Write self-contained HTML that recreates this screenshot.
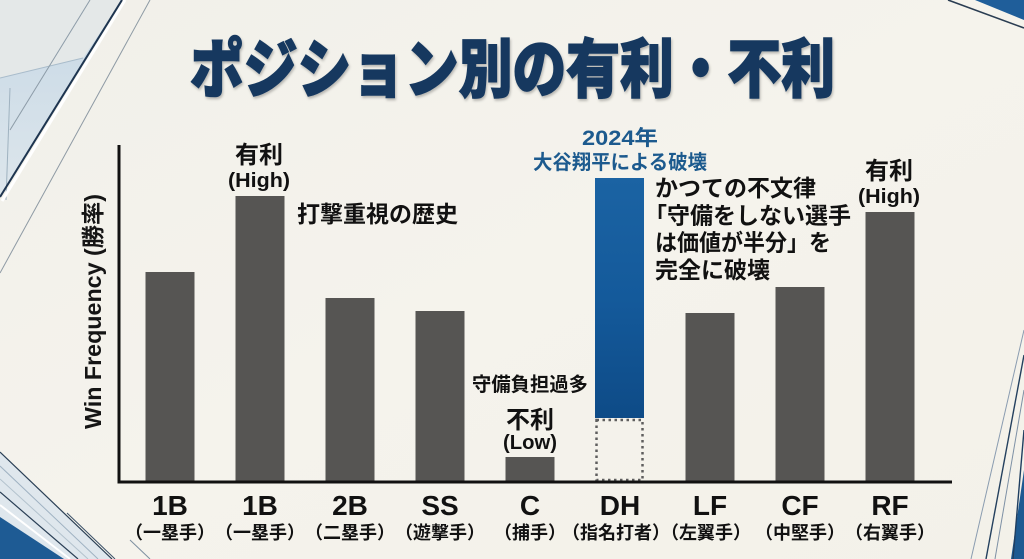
<!DOCTYPE html>
<html><head><meta charset="utf-8">
<style>
html,body{margin:0;padding:0;background:#f4f2eb;}
svg{display:block;}
text{font-family:"Liberation Sans","Noto Sans CJK JP",sans-serif;font-weight:700;}
</style></head>
<body>
<svg width="1024" height="559" viewBox="0 0 1024 559" xmlns="http://www.w3.org/2000/svg">
<defs>
<linearGradient id="bg" x1="0" y1="0" x2="1" y2="1">
<stop offset="0" stop-color="#f1f0ea"/><stop offset="0.5" stop-color="#f5f3ec"/><stop offset="1" stop-color="#f3f1e9"/>
</linearGradient>
<linearGradient id="facet" x1="0" y1="0" x2="0" y2="1">
<stop offset="0" stop-color="#c7d8e5"/><stop offset="1" stop-color="#dde6ec"/>
</linearGradient>
<linearGradient id="blue" x1="0" y1="0" x2="0" y2="1">
<stop offset="0" stop-color="#1b63a3"/><stop offset="0.5" stop-color="#145a9b"/><stop offset="1" stop-color="#0e4b87"/>
</linearGradient>
<filter id="sh" x="-5%" y="-10%" width="110%" height="130%">
<feDropShadow dx="1" dy="2" stdDeviation="1.2" flood-color="#000" flood-opacity="0.25"/>
</filter>
</defs>
<rect x="0" y="0" width="1024" height="559" fill="url(#bg)"/>

<!-- top-left decoration -->
<polygon points="0,0 122,0 83,58 0,78" fill="#e4e8e8"/>
<polygon points="0,78 83,58 122,0 0,197" fill="url(#facet)"/>
<line x1="0" y1="78" x2="83" y2="58" stroke="#a9bccb" stroke-width="1"/>
<line x1="90" y1="0" x2="10" y2="130" stroke="#8d9ca8" stroke-width="1"/>
<line x1="10" y1="88" x2="6" y2="200" stroke="#9fb2c0" stroke-width="1"/>
<line x1="125" y1="0" x2="2" y2="201" stroke="#ffffff" stroke-width="3"/>
<line x1="122" y1="0" x2="0" y2="197" stroke="#1e3550" stroke-width="2"/>
<line x1="150" y1="0" x2="0" y2="273" stroke="#8e9aa4" stroke-width="1"/>

<!-- bottom-left decoration -->
<polygon points="0,452 112,559 0,559" fill="#dfe7ed"/>
<line x1="0" y1="452" x2="112" y2="559" stroke="#2a3f55" stroke-width="1.2"/>
<line x1="0" y1="466" x2="98" y2="559" stroke="#9fb2c2" stroke-width="1"/>
<line x1="0" y1="479" x2="88" y2="559" stroke="#b3c2cd" stroke-width="1"/>
<line x1="0" y1="492" x2="78" y2="559" stroke="#2a3f55" stroke-width="1.2"/>
<line x1="0" y1="505" x2="70" y2="559" stroke="#ffffff" stroke-width="2"/>
<polygon points="0,517 0,559 64,559" fill="#1e5b94"/>
<line x1="67" y1="513" x2="115" y2="559" stroke="#3a5068" stroke-width="1"/>
<line x1="130" y1="540" x2="150" y2="559" stroke="#7d8fa0" stroke-width="1"/>

<!-- top-right decoration -->
<polygon points="975,0 1024,0 1024,20" fill="#1f5e9a"/>
<line x1="948" y1="0" x2="1024" y2="28" stroke="#2a3d52" stroke-width="1.6"/>

<!-- bottom-right decoration -->
<polygon points="1024,470 1024,559 1011,559" fill="#1d5a92"/>
<line x1="1024" y1="330" x2="971" y2="559" stroke="#8a9cb0" stroke-width="1"/>
<line x1="1024" y1="355" x2="986" y2="559" stroke="#24405e" stroke-width="1.4"/>
<line x1="1024" y1="390" x2="995" y2="559" stroke="#7d90a5" stroke-width="1"/>
<line x1="1024" y1="430" x2="1013" y2="559" stroke="#1f3e60" stroke-width="1.4"/>

<!-- title -->
<text x="190" y="92" font-size="64" fill="#17395f" stroke="#17395f" stroke-width="1.6" style="font-weight:900" textLength="645" lengthAdjust="spacingAndGlyphs" filter="url(#sh)">ポジション別の有利・不利</text>

<!-- bars -->
<g fill="#565553">
<rect x="145.5" y="272" width="49" height="210"/>
<rect x="235.5" y="196" width="49" height="286"/>
<rect x="325.5" y="298" width="49" height="184"/>
<rect x="415.5" y="311" width="49" height="171"/>
<rect x="505.5" y="457" width="49" height="25"/>
<rect x="685.5" y="313" width="49" height="169"/>
<rect x="775.5" y="287" width="49" height="195"/>
<rect x="865.5" y="212" width="49" height="270"/>
</g>
<rect x="595" y="178" width="49" height="240" fill="url(#blue)"/>
<rect x="596.5" y="420" width="46" height="60" fill="none" stroke="#5e5e5e" stroke-width="2.5" stroke-dasharray="2.5 3.5"/>

<!-- axes -->
<line x1="119" y1="145" x2="119" y2="483.5" stroke="#111" stroke-width="3"/>
<line x1="117.5" y1="482" x2="952" y2="482" stroke="#111" stroke-width="3"/>

<!-- y label -->
<text transform="translate(101,311.5) rotate(-90)" x="0" y="0" font-size="23" fill="#151515" text-anchor="middle" textLength="235" lengthAdjust="spacingAndGlyphs">Win Frequency (勝率)</text>

<!-- annotations -->
<g fill="#111">
<text x="259" y="163" font-size="24" text-anchor="middle">有利</text>
<text x="259" y="187" font-size="20" text-anchor="middle" textLength="62" lengthAdjust="spacingAndGlyphs">(High)</text>
<text x="297" y="222" font-size="23" textLength="161" lengthAdjust="spacingAndGlyphs">打撃重視の歴史</text>
<text x="530" y="391" font-size="19.5" text-anchor="middle" textLength="116" lengthAdjust="spacingAndGlyphs">守備負担過多</text>
<text x="530" y="428" font-size="24" text-anchor="middle">不利</text>
<text x="530" y="449" font-size="20" text-anchor="middle" textLength="54" lengthAdjust="spacingAndGlyphs">(Low)</text>
<text x="889" y="179" font-size="24" text-anchor="middle">有利</text>
<text x="889" y="203" font-size="20" text-anchor="middle" textLength="62" lengthAdjust="spacingAndGlyphs">(High)</text>
<text x="655" y="196" font-size="23">かつての不文律</text>
<text x="644" y="223.5" font-size="23">「守備をしない選手</text>
<text x="655" y="250.5" font-size="23" textLength="176" lengthAdjust="spacingAndGlyphs">は価値が半分」を</text>
<text x="655" y="278" font-size="23">完全に破壊</text>
</g>
<g fill="#1c5a8e">
<text x="620" y="145" font-size="21" text-anchor="middle" textLength="76" lengthAdjust="spacingAndGlyphs">2024年</text>
<text x="620" y="169" font-size="20" text-anchor="middle" textLength="174" lengthAdjust="spacingAndGlyphs">大谷翔平による破壊</text>
</g>

<!-- x labels -->
<g fill="#111" text-anchor="middle">
<text x="170" y="515" font-size="28">1B</text>
<text x="260" y="515" font-size="28">1B</text>
<text x="350" y="515" font-size="28">2B</text>
<text x="440" y="515" font-size="28">SS</text>
<text x="530" y="515" font-size="28">C</text>
<text x="620" y="515" font-size="28">DH</text>
<text x="710" y="515" font-size="28">LF</text>
<text x="800" y="515" font-size="28">CF</text>
<text x="890" y="515" font-size="28">RF</text>
</g>
<g fill="#111" text-anchor="middle" font-size="18">
<text x="170" y="539">（一塁手）</text>
<text x="260" y="539">（一塁手）</text>
<text x="350" y="539">（二塁手）</text>
<text x="440" y="539">（遊撃手）</text>
<text x="530" y="539">（捕手）</text>
<text x="616" y="539">（指名打者）</text>
<text x="706" y="539">（左翼手）</text>
<text x="800" y="539">（中堅手）</text>
<text x="890" y="539">（右翼手）</text>
</g>
</svg>
</body></html>
